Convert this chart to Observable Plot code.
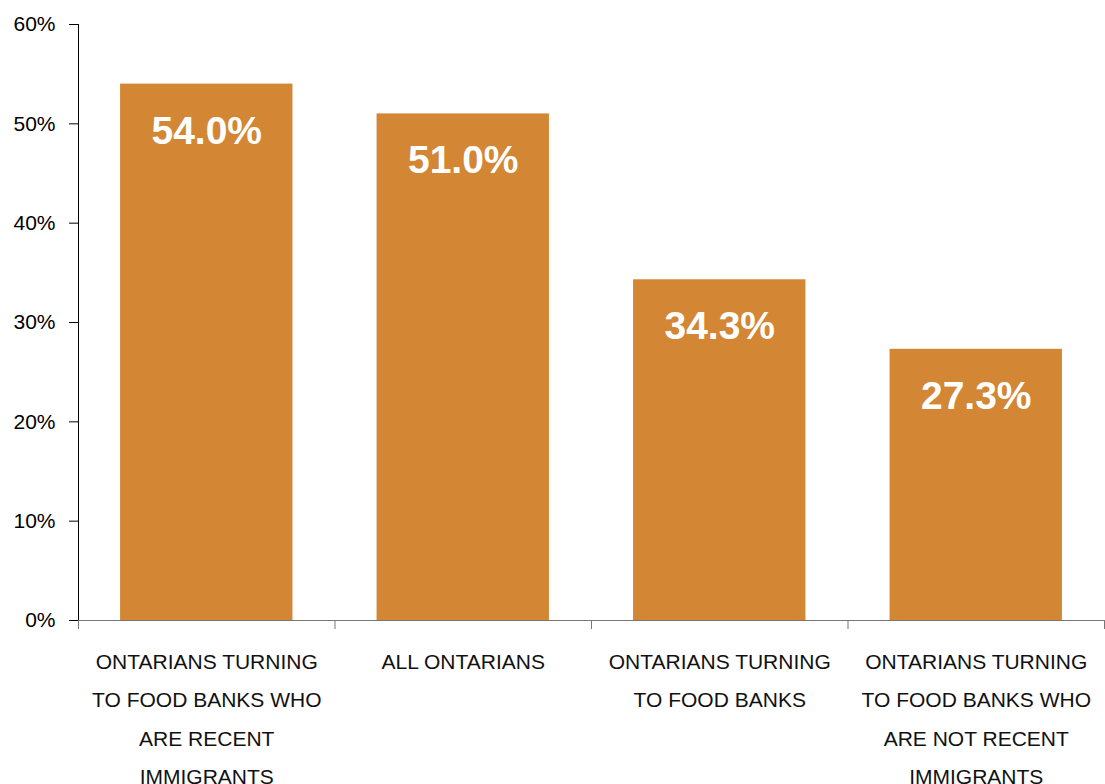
<!DOCTYPE html>
<html>
<head>
<meta charset="utf-8">
<script src="https://cdn.jsdelivr.net/npm/d3@7"></script>
<script src="https://cdn.jsdelivr.net/npm/@observablehq/plot@0.6"></script>
<style>
  html, body { margin: 0; padding: 0; background: #fff; }
  #chart { width: 1105px; height: 784px; }
  svg { font-family: "Liberation Sans", Arial, sans-serif; }
</style>
</head>
<body>
<div id="chart"></div>
<script>
const categories = [
  "ONTARIANS TURNING\nTO FOOD BANKS WHO\nARE RECENT\nIMMIGRANTS",
  "ALL ONTARIANS",
  "ONTARIANS TURNING\nTO FOOD BANKS",
  "ONTARIANS TURNING\nTO FOOD BANKS WHO\nARE NOT RECENT\nIMMIGRANTS"
];
const values = [54.0, 51.0, 34.3, 27.3];
const yTicks = [0, 10, 20, 30, 40, 50, 60];

const barColor = "#D38634";
const pad = 0.164;

const data = categories.map((c, i) => ({ i, label: c, value: values[i] }));
const boundaries = d3.range(categories.length + 1);

const chart = Plot.plot({
  width: 1105,
  height: 784,
  marginLeft: 78,
  marginRight: 1,
  marginTop: 24,
  marginBottom: 164,
  style: { fontFamily: "'Liberation Sans', Arial, sans-serif", background: "#fff" },
  x: { type: "linear", domain: [0, categories.length] },
  y: { type: "linear", domain: [0, 60] },
  marks: [
    Plot.rectY(data, {
      x1: d => d.i + pad,
      x2: d => d.i + 1 - pad,
      y1: 0,
      y2: "value",
      fill: barColor
    }),
    Plot.text(data, {
      x: d => d.i + 0.5,
      y: "value",
      text: d => d.value.toFixed(1) + "%",
      fill: "#fff",
      fontWeight: "bold",
      fontSize: 39,
      dy: 47
    }),
    Plot.axisY({
      ticks: yTicks,
      tickFormat: d => d + "%",
      tickSize: 9,
      tickPadding: 14,
      fontSize: 21,
      stroke: "#000",
      color: "#000",
      strokeOpacity: 1,
      label: null
    }),
    Plot.axisX({
      ticks: boundaries,
      tickFormat: () => "",
      tickSize: 9,
      stroke: "#777",
      strokeOpacity: 1,
      label: null
    }),
    Plot.ruleX([0], { stroke: "#000", strokeWidth: 1 }),
    Plot.ruleY([0], { stroke: "#777", strokeWidth: 1.2 }),
    Plot.text(data, {
      x: d => d.i + 0.5,
      y: 0,
      text: "label",
      fontSize: 21,
      fill: "#111",
      lineAnchor: "top",
      lineHeight: 1.81,
      dy: 22
    })
  ]
});

document.getElementById("chart").appendChild(chart);
</script>
</body>
</html>
